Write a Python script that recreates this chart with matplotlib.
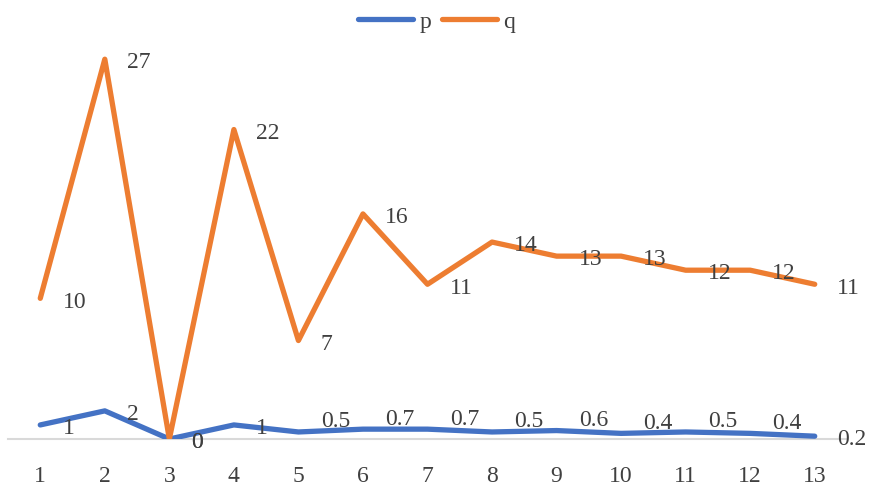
import matplotlib
matplotlib.use("Agg")
import matplotlib.pyplot as plt

x_labels = ["1", "2", "3", "4", "5", "6", "7", "8", "9", "10", "11", "12", "13"]
p_values = [1, 2, 0, 1, 0.5, 0.7, 0.7, 0.5, 0.6, 0.4, 0.5, 0.4, 0.2]
q_values = [10, 27, 0, 22, 7, 16, 11, 14, 13, 13, 12, 12, 11]

plt.rcParams["font.family"] = ["Liberation Serif", "DejaVu Serif"]

fig = plt.figure(figsize=(8.73, 4.89), dpi=100)
ax = fig.add_axes([8 / 873, 49 / 489, 839 / 873, 422 / 489])

xs = list(range(1, len(x_labels) + 1))
blue = "#4472C4"
orange = "#ED7D31"
text_color = "#404040"
fs = 17

ax.plot(xs, p_values, color=blue, lw=3.8, solid_capstyle="round", label="p", zorder=3)
ax.plot(xs, q_values, color=orange, lw=3.8, solid_capstyle="round", label="q", zorder=3)

def fmt(v):
    return f"{v:g}"

last = len(xs) - 1
for i, (x, v) in enumerate(zip(xs, p_values)):
    # fractional labels sit a little above the line, except at the end of the series
    dy = 8 if (v != int(v) and i != last) else -2
    ax.annotate(fmt(v), (x, v), xytext=(16, dy), textcoords="offset points",
                ha="left", va="center", fontsize=fs, color=text_color, zorder=4)
for x, v in zip(xs, q_values):
    ax.annotate(fmt(v), (x, v), xytext=(16, -2), textcoords="offset points",
                ha="left", va="center", fontsize=fs, color=text_color, zorder=4)

ax.set_xlim(0.5, len(xs) + 0.5)
ax.set_ylim(0, 30)
ax.set_xticks(xs)
ax.set_xticklabels(x_labels, fontsize=fs, color=text_color)
ax.set_yticks([])
ax.tick_params(axis="x", length=0, pad=19)
for side in ["top", "right", "left"]:
    ax.spines[side].set_visible(False)
ax.spines["bottom"].set_color("#D9D9D9")
ax.spines["bottom"].set_linewidth(1.5)
ax.spines["bottom"].set_zorder(1)

fig.legend(loc="center", bbox_to_anchor=(0.5, 1 - 22 / 489), ncol=2, frameon=False,
           fontsize=fs, handlelength=2.35, handletextpad=0.25, columnspacing=0.45,
           labelcolor=text_color, borderpad=0)

fig.savefig("out.png", dpi=100)
